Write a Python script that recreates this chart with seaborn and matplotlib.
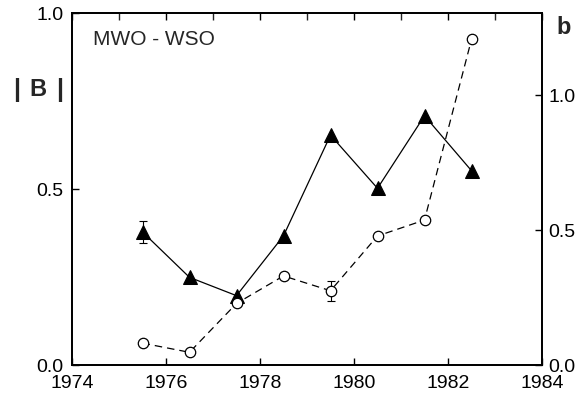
import matplotlib
matplotlib.use("Agg")
import matplotlib.pyplot as plt
import seaborn as sns
import pandas as pd
from matplotlib.ticker import MultipleLocator

years = [1975.5, 1976.5, 1977.5, 1978.5, 1979.5, 1980.5, 1981.5, 1982.5]
tri_vals = [0.378, 0.249, 0.197, 0.367, 0.653, 0.502, 0.708, 0.552]
circ_vals = [0.081, 0.047, 0.228, 0.330, 0.275, 0.478, 0.537, 1.206]
tri_err_year, tri_err_val, tri_err = 1975.5, 0.378, 0.030
circ_err_year, circ_err_val, circ_err = 1979.5, 0.275, 0.037

sns.set_theme(style="ticks")
plt.rcParams['font.family'] = ['Liberation Sans', 'DejaVu Sans']

fig = plt.figure(figsize=(5.81, 3.93), dpi=100)
ax = fig.add_axes([72 / 581, 28 / 393, 470 / 581, 352 / 393])
ax2 = ax.twinx()

df1 = pd.DataFrame({"year": years, "val": tri_vals})
df2 = pd.DataFrame({"year": years, "val": circ_vals})

ax.errorbar([tri_err_year], [tri_err_val], yerr=[tri_err], fmt='none',
            ecolor='black', elinewidth=0.8, capsize=3, capthick=0.8, zorder=1)
sns.lineplot(data=df1, x="year", y="val", ax=ax, color='black', lw=0.9,
             marker='^', markersize=10, markerfacecolor='black',
             markeredgecolor='black', zorder=3)

ax2.errorbar([circ_err_year], [circ_err_val], yerr=[circ_err], fmt='none',
             ecolor='black', elinewidth=0.8, capsize=3, capthick=0.8, zorder=1)
sns.lineplot(data=df2, x="year", y="val", ax=ax2, color='black', lw=0.9,
             marker='o', markersize=7.5, markerfacecolor='white',
             markeredgecolor='black', markeredgewidth=0.9, zorder=3,
             dashes=False, linestyle=(0, (6, 4)))

ax.set_xlim(1974, 1984)
ax.set_ylim(0, 1.0)
ax2.set_ylim(0, 1.304)
ax.set_xticks([1974, 1976, 1978, 1980, 1982, 1984])
ax.xaxis.set_minor_locator(MultipleLocator(1))
ax.set_yticks([0.0, 0.5, 1.0])
ax.set_yticklabels(["0.0", "0.5", "1.0"])
ax2.set_yticks([0.0, 0.5, 1.0])
ax2.set_yticklabels(["0.0", "0.5", "1.0"])
ax.set_xlabel("")
ax.set_ylabel("")
ax2.set_ylabel("")

ax.tick_params(axis='x', which='major', direction='in', top=True, bottom=True,
               length=5, width=1, labelsize=14, pad=7, colors='black')
ax.tick_params(axis='x', which='minor', direction='in', top=True, bottom=False,
               length=5, width=1)
ax.tick_params(axis='y', direction='in', length=5, width=1, labelsize=14, pad=6,
               colors='black')
ax2.tick_params(axis='y', direction='in', length=5, width=1, labelsize=14, pad=4.5,
                colors='black')
for a in (ax, ax2):
    for s in a.spines.values():
        s.set_linewidth(1.3)
        s.set_color('black')

ax.text(0.045, 0.926, "MWO - WSO", transform=ax.transAxes, fontsize=15,
        ha='left', va='center')
fig.text(17 / 581, 1 - 90 / 393, "|", fontsize=18, fontweight='bold', ha='center', va='center')
fig.text(38 / 581, 1 - 90 / 393, "B", fontsize=17, fontweight='bold', ha='center', va='center')
fig.text(60 / 581, 1 - 90 / 393, "|", fontsize=18, fontweight='bold', ha='center', va='center')
fig.text(564 / 581, 1 - 28 / 393, "b", fontsize=17, fontweight='bold', ha='center', va='center')

fig.savefig("out.png", dpi=100)
